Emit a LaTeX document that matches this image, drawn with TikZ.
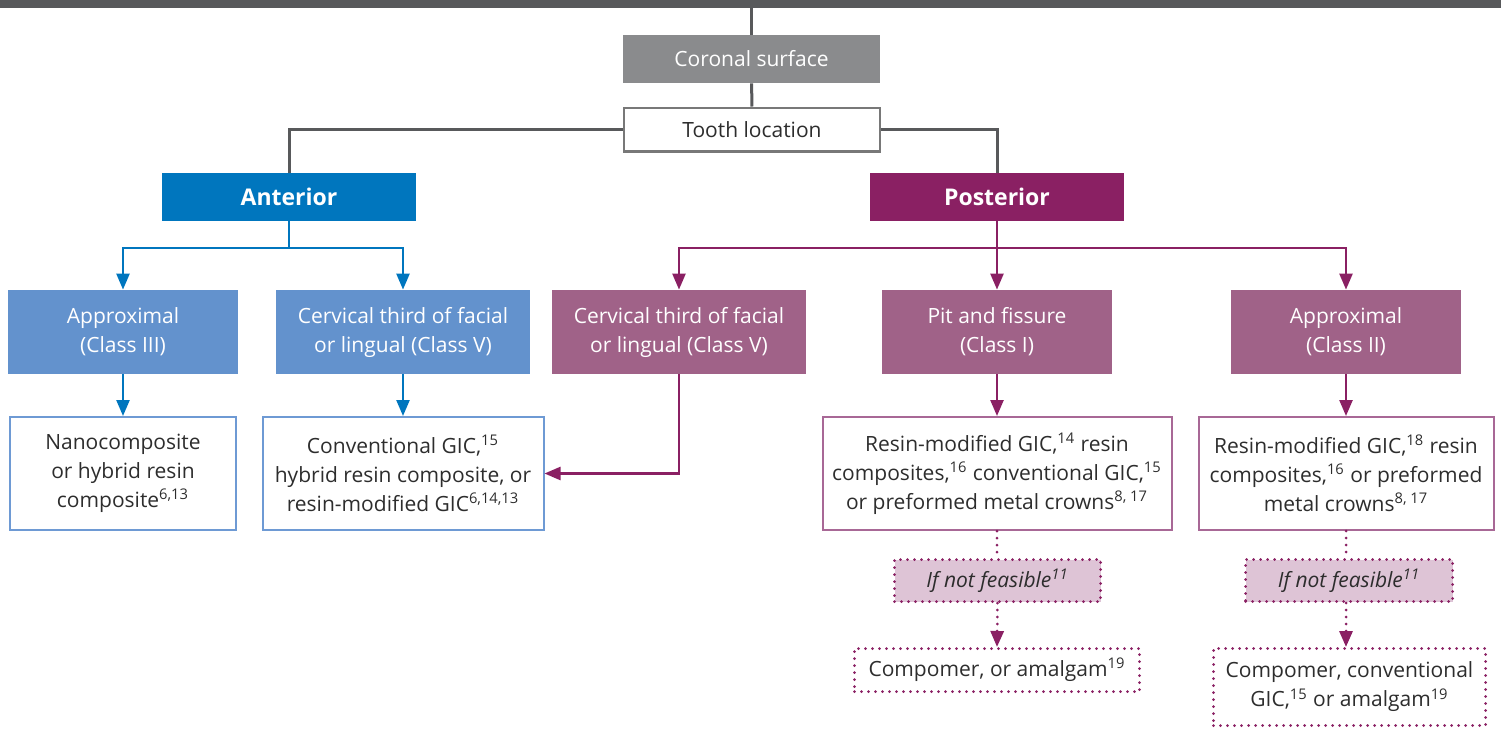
\documentclass[tikz,border=0pt]{standalone}
\usepackage{fontspec}
\setmainfont{Open Sans}
\usetikzlibrary{arrows.meta}
\definecolor{colBar}{RGB}{88,89,91}
\definecolor{colGray}{RGB}{138,139,141}
\definecolor{colGrayLine}{RGB}{120,120,120}
\definecolor{colText}{RGB}{45,45,45}
\definecolor{colA}{RGB}{0,118,190}
\definecolor{colAlight}{RGB}{99,146,205}
\definecolor{colAline}{RGB}{110,154,212}
\definecolor{colP}{RGB}{138,32,99}
\definecolor{colPlight}{RGB}{160,98,136}
\definecolor{colPline}{RGB}{168,104,150}
\definecolor{colPpale}{RGB}{222,196,214}
\tikzstyle{box}=[rectangle, inner sep=0pt, align=center, font=\fontsize{10.5}{14.5}\selectfont]
\tikzstyle{boxBar}=[box, fill=colBar]
\tikzstyle{boxGray}=[box, fill=colGray, text=white]
\tikzstyle{boxTop}=[box, draw=colGrayLine, line width=1.2pt, fill=white, text=colText]
\tikzstyle{boxHead}=[box, text=white, font=\fontsize{11.5}{13}\selectfont\bfseries]
\tikzstyle{boxA}=[box, fill=colAlight, text=white]
\tikzstyle{boxP}=[box, fill=colPlight, text=white]
\tikzstyle{resA}=[box, draw=colAline, line width=1pt, text=colText]
\tikzstyle{resP}=[box, draw=colPline, line width=1pt, text=colText]
\tikzstyle{dotbox}=[box, draw=colP, line width=1.5pt, dash pattern=on 0pt off 3.5pt, line cap=round, text=colText]
\tikzstyle{gedge}=[line width=1.5pt, colBar]
\tikzstyle{aedge}=[line width=1.2pt, colA]
\tikzstyle{pedge}=[line width=1.2pt, colP]
\tikzstyle{aarrow}=[aedge, -{Triangle[width=6.5pt,length=8pt]}]
\tikzstyle{parrow}=[pedge, -{Triangle[width=6.5pt,length=8pt]}]
\tikzstyle{pdots}=[pedge, line width=1.5pt, dash pattern=on 0pt off 3.5pt, line cap=round]

\begin{document}
\begin{tikzpicture}[x=0.5pt, y=-0.5pt]
	\useasboundingbox (0,0) rectangle (1501,729);
	% top of the tree
	\node[boxBar, minimum width=750.5pt, minimum height=4pt]  (bar)     at (750.5,   4) {};
	\node[boxGray, minimum width=128.5pt, minimum height=24pt] (coronal) at (751.5,  59) {Coronal surface};
	\node[boxTop, minimum width=127.8pt, minimum height=21.8pt] (tooth)  at (752, 129.5) {Tooth location};
	\node[boxHead, fill=colA, minimum width=127pt, minimum height=24pt] (ant)  at (289, 197) {Anterior};
	\node[boxHead, fill=colP, minimum width=127pt, minimum height=24pt] (post) at (997, 197) {Posterior};

	% cavity classes
	\node[boxA, minimum width=115pt, minimum height=42pt] (a3)    at (123, 332) {Approximal\\(Class III)};
	\node[boxA, minimum width=127pt, minimum height=42pt] (acerv) at (403, 332) {Cervical third of facial\\or lingual (Class V)};
	\node[boxP, minimum width=127pt, minimum height=42pt] (pcerv) at (679, 332) {Cervical third of facial\\or lingual (Class V)};
	\node[boxP, minimum width=115pt, minimum height=42pt] (pit)   at (997, 332) {Pit and fissure\\(Class I)};
	\node[boxP, minimum width=115pt, minimum height=42pt] (p2)    at (1346, 332) {Approximal\\(Class II)};

	% materials
	\node[resA, minimum width=113pt,   minimum height=56.5pt] (nano) at (123, 473.5)
		{Nanocomposite\\or hybrid resin\\composite\textsuperscript{6,13}};
	\node[resA, minimum width=140.5pt, minimum height=56.5pt] (conv) at (403, 473.5)
		{Conventional GIC,\textsuperscript{15}\\hybrid resin composite, or\\resin-modified GIC\textsuperscript{6,14,13}};
	\node[resP, minimum width=174.5pt, minimum height=56.5pt] (pres) at (997, 473.5)
		{Resin-modified GIC,\textsuperscript{14} resin\\composites,\textsuperscript{16} conventional GIC,\textsuperscript{15}\\or preformed metal crowns\textsuperscript{8, 17}};
	\node[resP, minimum width=147.5pt, minimum height=56.5pt] (ares) at (1346, 473.5)
		{Resin-modified GIC,\textsuperscript{18} resin\\composites,\textsuperscript{16} or preformed\\metal crowns\textsuperscript{8, 17}};

	% fall-backs
	\node[dotbox, fill=colPpale, minimum width=103pt,   minimum height=21pt]   (pif)   at (997.5, 580.5) {\itshape If not feasible\textsuperscript{11}};
	\node[dotbox, fill=colPpale, minimum width=103.5pt, minimum height=21pt]   (aif)   at (1349, 580.5)  {\itshape If not feasible\textsuperscript{11}};
	\node[dotbox, minimum width=142.5pt, minimum height=21.5pt] (pcomp) at (997, 670)   {Compomer, or amalgam\textsuperscript{19}};
	\node[dotbox, minimum width=136pt,   minimum height=38.5pt] (acomp) at (1349.5, 687) {Compomer, conventional\\GIC,\textsuperscript{15} or amalgam\textsuperscript{19}};

	\coordinate (jA) at (289, 248);
	\coordinate (jP) at (997, 248);

	%%% Gray part
	\draw[gedge] (coronal.north |- bar.south) -- (coronal.north);
	\draw[gedge] (coronal) -- (tooth);
	\draw[gedge] (tooth.west) -| (ant.north);
	\draw[gedge] (tooth.east) -| (post.north);

	%%% Anterior
	\draw[aedge] (ant.south) -- (jA);
	\draw[aarrow] (jA) -| (a3.north);
	\draw[aarrow] (jA) -| (acerv.north);
	\draw[aarrow] (a3) -- (nano);
	\draw[aarrow] (acerv) -- (conv);

	%%% Posterior
	\draw[pedge] (post.south) -- (jP);
	\draw[parrow] (jP) -| (pcerv.north);
	\draw[parrow] (jP) -- (pit.north);
	\draw[parrow] (jP) -| (p2.north);
	\draw[parrow] (pcerv.south) |- (conv.east);
	\draw[parrow] (pit) -- (pres);
	\draw[parrow] (p2) -- (ares);
	% dotted fall-back
	\draw[pdots] (pres.south) -- (pres.south |- pif.north);
	\draw[pdots] (ares.south) -- (ares.south |- aif.north);
	\draw[pdots, -{Triangle[width=6.5pt,length=8pt]}] (pif.south) -- (pcomp.north);
	\draw[pdots, -{Triangle[width=6.5pt,length=8pt]}] (ares.south |- aif.south) -- (ares.south |- acomp.north);
\end{tikzpicture}
\end{document}
